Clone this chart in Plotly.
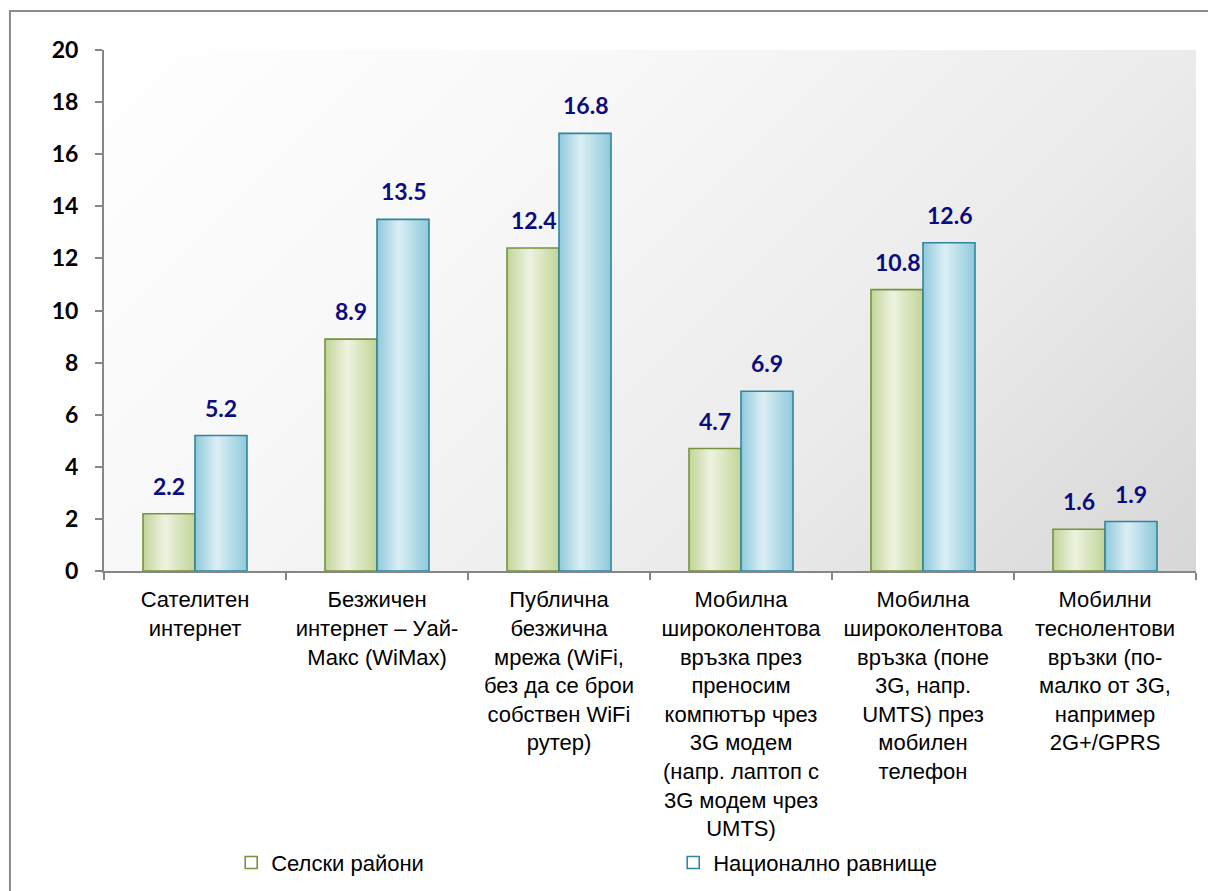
import base64
import plotly.graph_objects as go

# Share of households by connection type, %
categories = [
    "Сателитен<br>интернет",
    "Безжичен<br>интернет – Уай-<br>Макс (WiMax)",
    "Публична<br>безжична<br>мрежа (WiFi,<br>без да се брои<br>собствен WiFi<br>рутер)",
    "Мобилна<br>широколентова<br>връзка през<br>преносим<br>компютър чрез<br>3G модем<br>(напр. лаптоп с<br>3G модем чрез<br>UMTS)",
    "Мобилна<br>широколентова<br>връзка (поне<br>3G, напр.<br>UMTS) през<br>мобилен<br>телефон",
    "Мобилни<br>теснолентови<br>връзки (по-<br>малко от 3G,<br>например<br>2G+/GPRS",
]
rural = [2.2, 8.9, 12.4, 4.7, 10.8, 1.6]
national = [5.2, 13.5, 16.8, 6.9, 12.6, 1.9]
series_names = ["Селски райони", "Национално равнище"]
y_ticks = list(range(0, 21, 2))

BAR_W = 0.2857
N_SLICES = 24
LABEL_FONT = "Lato, Carlito, 'Open Sans', sans-serif"


def lerp(c1, c2, t):
    return tuple(round(a + (b - a) * t) for a, b in zip(c1, c2))


def shade(edge, centre, u, peak=0.42):
    t = u / peak if u < peak else (1 - u) / (1 - peak)
    c = lerp(edge, centre, max(0.0, min(1.0, t)))
    return f"rgb({c[0]},{c[1]},{c[2]})"


styles = [
    dict(values=rural, offset=-BAR_W, edge=(193, 213, 152), centre=(238, 243, 224), line="#77933c"),
    dict(values=national, offset=0.0, edge=(143, 201, 219), centre=(219, 239, 245), line="#31859c"),
]

fig = go.Figure()

for name, st in zip(series_names, styles):
    # horizontal gradient built from stacked slices, each reaching the bar's right edge
    for i in range(N_SLICES):
        start = i / N_SLICES
        fig.add_trace(go.Bar(
            x=categories, y=st["values"],
            offset=st["offset"] + start * BAR_W,
            width=BAR_W * (1 - start),
            marker=dict(color=shade(st["edge"], st["centre"], (i + 0.5) / N_SLICES), line=dict(width=0)),
            showlegend=False, hoverinfo="skip",
        ))
    # outline on top, also used as legend entry
    fig.add_trace(go.Bar(
        x=categories, y=st["values"], name=name,
        offset=st["offset"], width=BAR_W,
        marker=dict(color="rgba(0,0,0,0)", line=dict(color=st["line"], width=1.6)),
    ))

# value labels above bars
for st in styles:
    for i, v in enumerate(st["values"]):
        fig.add_annotation(
            x=i + st["offset"] + BAR_W / 2, y=v, xref="x", yref="y",
            text=f"<b>{v:.1f}</b>", showarrow=False, yanchor="bottom", yshift=12,
            font=dict(family=LABEL_FONT, size=23, color="#0b0b80"),
        )

# plot-area background: diagonal light-grey gradient
svg = (
    '<svg xmlns="http://www.w3.org/2000/svg" width="1092" height="521" viewBox="0 0 1092 521" preserveAspectRatio="none">'
    '<defs><linearGradient id="g" gradientUnits="userSpaceOnUse" x1="0" y1="0" x2="806" y2="806">'
    '<stop offset="0" stop-color="#ffffff"/><stop offset="0.32" stop-color="#f8f8f8"/>'
    '<stop offset="0.68" stop-color="#ebebeb"/><stop offset="1" stop-color="#d7d7d7"/>'
    '</linearGradient></defs><rect width="1092" height="521" fill="url(#g)"/></svg>'
)
bg_uri = "data:image/svg+xml;base64," + base64.b64encode(svg.encode()).decode()
fig.add_layout_image(dict(
    source=bg_uri, xref="paper", yref="paper", x=0, y=1, sizex=1, sizey=1,
    sizing="stretch", xanchor="left", yanchor="top", layer="below",
))

# outer chart frame
fig.add_shape(type="rect", xref="paper", yref="paper", x0=-0.0861, x1=1.2, y0=-1.0, y1=1.0749,
              line=dict(color="#8c8c8c", width=2), fillcolor="rgba(0,0,0,0)", layer="above")

fig.update_layout(
    width=1208, height=891,
    margin=dict(l=104, r=12, t=50, b=320, autoexpand=False),
    paper_bgcolor="white", plot_bgcolor="rgba(0,0,0,0)",
    barmode="overlay",
    xaxis=dict(
        type="category", range=[-0.5, 5.5], tickson="boundaries", automargin=False,
        ticks="outside", ticklen=7, tickcolor="#868686", tickwidth=1.5,
        showline=True, linecolor="#868686", linewidth=2, showgrid=False,
        ticklabelstandoff=8,
        tickfont=dict(family="'Liberation Sans', Arial, sans-serif", size=22, color="#000000"),
    ),
    yaxis=dict(
        range=[0, 20], tickvals=y_ticks, ticks="outside", ticklen=7, automargin=False,
        tickcolor="#868686", tickwidth=1.5, showline=True, linecolor="#868686", linewidth=2,
        showgrid=False, zeroline=False, ticklabelstandoff=12,
        tickfont=dict(family=LABEL_FONT, size=23, color="#000000", weight="bold"),
    ),
    legend=dict(
        orientation="h", x=0.1165, y=-0.56, xanchor="left", yanchor="middle",
        entrywidth=397, entrywidthmode="pixels", itemwidth=30,
        font=dict(family="'Liberation Sans', Arial, sans-serif", size=22, color="#000000"),
        bgcolor="rgba(0,0,0,0)",
    ),
    showlegend=True,
)

fig.write_html("out.html")
